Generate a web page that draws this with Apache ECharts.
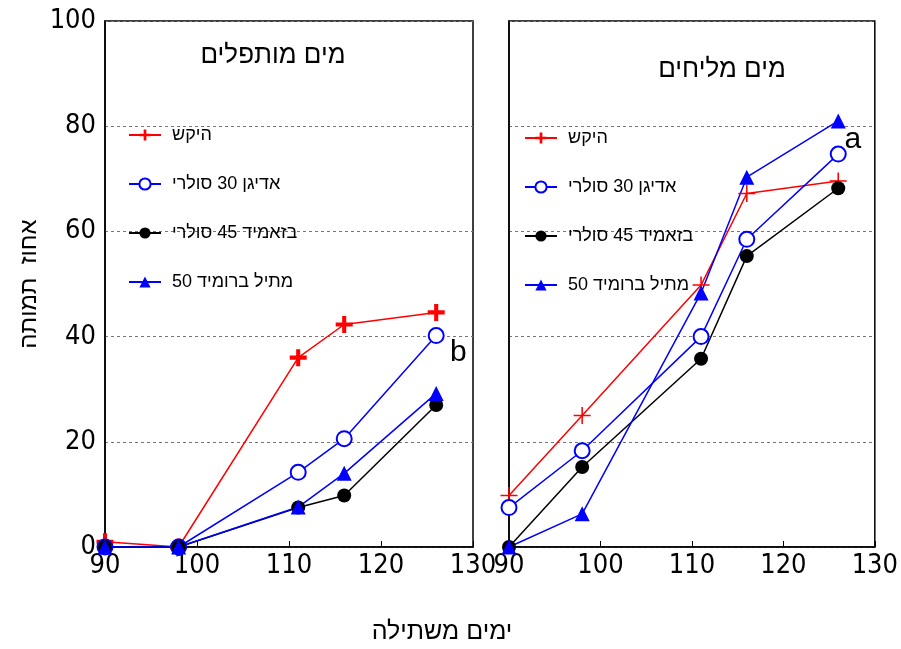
<!DOCTYPE html>
<html lang="he">
<head>
<meta charset="utf-8">
<script src="https://cdn.jsdelivr.net/npm/echarts@6/dist/echarts.min.js"></script>
<style>
  html, body { margin: 0; padding: 0; background: #fff; }
  #chart { width: 901px; height: 649px; }
</style>
</head>
<body>
<div id="chart"></div>
<script>
// Days after planting (x values shared by both panels)
const days = [90, 98, 111, 116, 126];

// Treatment names (legend)
const treatments = ['היקש', 'אדיגן 30 סולרי', 'בזאמיד 45 סולרי', 'מתיל ברומיד 50'];

// Panel titles
const panelTitles = ['מים מותפלים', 'מים מליחים'];

// Mortality (%) — desalinated water
const controlFresh = [1, 0, 36, 42.3, 44.6];
const ediganFresh = [0, 0, 14.2, 20.6, 40.2];
const basamidFresh = [0, 0, 7.5, 9.8, 27];
const mbrFresh = [0, 0, 7.6, 14, 29.2];

// Mortality (%) — brackish water
const controlBrackish = [9.8, 25, 49.8, 67.2, 69.6];
const ediganBrackish = [7.5, 18.3, 40, 58.5, 74.7];
const basamidBrackish = [0, 15.2, 35.8, 55.3, 68.2];
const mbrBrackish = [0, 6.3, 48.3, 70.3, 81];

// Axis ticks
const xTicks = { min: 90, max: 130, step: 10 };
const yTicks = { min: 0, max: 100, step: 20 };

// Significance letters placed next to the final points
const letters = [
  { panel: 0, text: 'b', x: 128.4, y: 37 },
  { panel: 1, text: 'a', x: 127.6, y: 77.5 }
];

const FONT = 'Arial, "Liberation Sans", sans-serif';
const NARROW = '"DejaVu Sans Condensed", Arial, "Liberation Sans", sans-serif';
const RED = '#ff0000', BLUE = '#0000ff', BLACK = '#000000';

const plusThick = 'path://M3.8,0 H6.2 V3.8 H10 V6.2 H6.2 V10 H3.8 V6.2 H0 V3.8 H3.8 Z';
const plusThin = 'path://M4.55,0 H5.45 V4.55 H10 V5.45 H5.45 V10 H4.55 V5.45 H0 V4.55 H4.55 Z';

const pair = (ys) => days.map((d, i) => [d, ys[i]]);

function makeSeries(panel, sets, plus) {
  const styles = [
    { color: RED, symbol: plus, size: 17 },
    { color: BLUE, symbol: 'emptyCircle', size: 15 },
    { color: BLACK, symbol: 'circle', size: 14 },
    { color: BLUE, symbol: 'triangle', size: 15 }
  ];
  return sets.map((ys, k) => ({
    type: 'line',
    name: treatments[k],
    xAxisIndex: panel,
    yAxisIndex: panel,
    data: pair(ys),
    symbol: styles[k].symbol,
    symbolSize: styles[k].size,
    showAllSymbol: true,
    clip: false,
    animation: false,
    lineStyle: { color: styles[k].color, width: 1.5 },
    itemStyle: {
      color: styles[k].color,
      borderColor: styles[k].color,
      borderWidth: styles[k].symbol === 'emptyCircle' ? 1.5 : 0
    },
    emphasis: { disabled: true }
  }));
}

function xAxis(i) {
  return {
    type: 'value', gridIndex: i,
    min: xTicks.min, max: xTicks.max, interval: xTicks.step,
    axisLine: { lineStyle: { color: '#000', width: 1.5 } },
    axisTick: { inside: true, length: 6, lineStyle: { color: '#000' } },
    axisLabel: { color: '#000', fontSize: 27, fontFamily: NARROW, margin: 5 },
    splitLine: { show: false }
  };
}

function yAxis(i) {
  return {
    type: 'value', gridIndex: i,
    min: yTicks.min, max: yTicks.max, interval: yTicks.step,
    axisLine: { show: true, lineStyle: { color: '#000', width: 1.5 } },
    axisTick: { show: false },
    axisLabel: { show: i === 0, color: '#000', fontSize: 27, fontFamily: NARROW, margin: 9 },
    splitLine: { show: true, lineStyle: { color: '#777', width: 1, type: [3, 3] } }
  };
}

function legend(left, top) {
  return {
    orient: 'vertical', left: left, top: top, padding: 0,
    itemWidth: 32, itemHeight: 14, itemGap: 29,
    textStyle: { fontSize: 18, fontFamily: FONT, color: '#000', lineHeight: 20, padding: [0, 0, 0, 6] },
    data: treatments,
    selectedMode: false
  };
}

const chart = echarts.init(document.getElementById('chart'), null, { renderer: 'canvas' });

const option = {
  backgroundColor: '#fff',
  animation: false,
  grid: [
    { left: 105, top: 21, width: 368, height: 526, show: true, borderColor: '#000', borderWidth: 1.5, backgroundColor: 'transparent' },
    { left: 509, top: 21, width: 368, height: 526, show: true, borderColor: '#000', borderWidth: 1.5, backgroundColor: 'transparent' }
  ],
  xAxis: [xAxis(0), xAxis(1)],
  yAxis: [yAxis(0), yAxis(1)],
  legend: [legend(128, 125), legend(524, 128)],
  title: [
    { text: panelTitles[0], left: 268, top: 38, textAlign: 'center',
      textStyle: { fontSize: 26, fontWeight: 'normal', fontFamily: FONT, color: '#000' } },
    { text: panelTitles[1], left: 717, top: 52, textAlign: 'center',
      textStyle: { fontSize: 26, fontWeight: 'normal', fontFamily: FONT, color: '#000' } }
  ],
  series: [
    ...makeSeries(0, [controlFresh, ediganFresh, basamidFresh, mbrFresh], plusThick),
    ...makeSeries(1, [controlBrackish, ediganBrackish, basamidBrackish, mbrBrackish], plusThin)
  ]
};

chart.setOption(option);

// Axis titles and significance letters
const graphics = [
  { type: 'text', x: 29, y: 284, rotation: Math.PI / 2,
    style: { text: 'אחוז  תמותה', font: '24px ' + FONT, fill: '#000', align: 'center', verticalAlign: 'middle' } },
  { type: 'text', x: 442, y: 632,
    style: { text: 'ימים משתילה', font: '25px ' + FONT, fill: '#000', align: 'center', verticalAlign: 'middle' } }
];
letters.forEach(l => {
  const p = chart.convertToPixel({ gridIndex: l.panel }, [l.x, l.y]);
  graphics.push({ type: 'text', x: p[0], y: p[1],
    style: { text: l.text, font: '30px ' + FONT, fill: '#000', align: 'center', verticalAlign: 'middle' } });
});
chart.setOption({ graphic: graphics });
</script>
</body>
</html>
